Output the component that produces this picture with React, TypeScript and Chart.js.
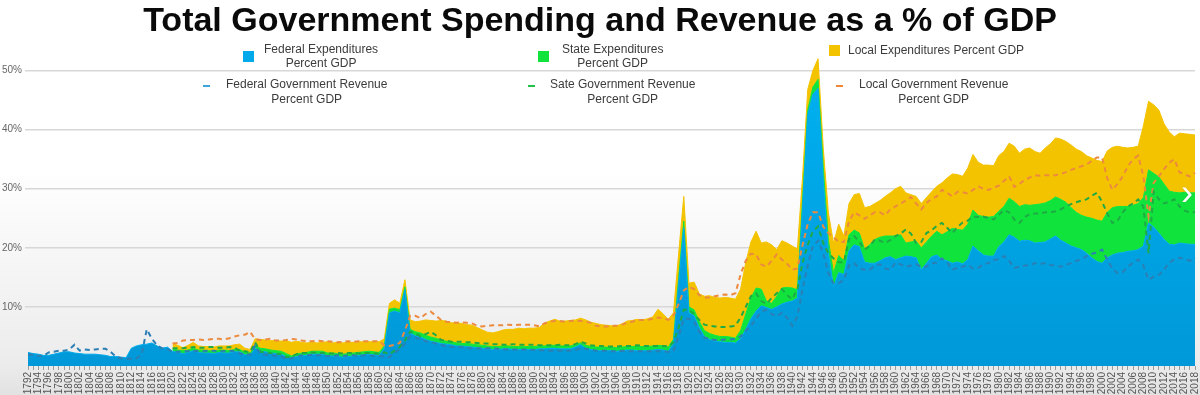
import React, { useEffect, useRef } from 'react';
import { Chart, registerables } from 'chart.js';

Chart.register(...registerables);

const years: string[] = Array.from({ length: 227 }, (_, i) => String(1792 + i));

const yTickValues = [10, 20, 30, 40, 50];

// Federal expenditures, % of GDP (1792-2018)
const fedExp = [
  2.3, 2.1, 2.0, 1.8, 1.8, 2.0, 2.2, 2.4,
  2.4, 2.2, 2.1, 2.0, 2.0, 2.0, 1.9, 1.8, 1.6, 1.6,
  1.5, 1.4, 3.0, 3.4, 3.6, 3.7, 3.9, 3.4, 3.0, 3.2,
  2.5, 2.3, 2.1, 2.3, 2.6, 2.3, 2.2, 2.2, 2.1, 2.3,
  2.2, 2.2, 2.4, 2.4, 1.9, 1.8, 3.0, 2.5, 2.4, 2.2,
  2.1, 2.0, 1.6, 1.3, 1.6, 1.7, 1.8, 2.0, 2.0, 2.0,
  1.7, 1.7, 1.6, 1.5, 1.6, 1.7, 1.8, 1.9, 2.0, 1.9,
  1.8, 3.0, 9.0, 9.3, 9.0, 12.9, 5.6, 5.1, 4.9, 4.5,
  4.2, 4.0, 3.8, 3.7, 3.6, 3.4, 3.4, 3.3, 3.2, 3.1,
  3.0, 2.9, 2.8, 2.8, 2.9, 2.9, 2.8, 2.8, 2.8, 2.8,
  2.8, 2.9, 2.9, 3.0, 3.0, 2.9, 2.9, 2.9, 3.2, 3.6,
  3.0, 2.8, 2.6, 2.6, 2.6, 2.6, 2.5, 2.6, 2.7, 2.7,
  2.6, 2.6, 2.6, 2.7, 2.8, 2.7, 2.5, 3.8, 14.0, 23.4,
  9.0, 8.5, 6.5, 5.0, 4.5, 4.2, 4.1, 4.0, 4.0, 3.9,
  4.6, 6.2, 8.0, 9.3, 10.2, 9.9, 9.6, 10.0, 10.5, 10.8,
  11.0, 11.5, 27.0, 42.5, 46.0, 47.0, 31.5, 19.1, 13.4, 15.8,
  15.5, 19.5, 20.5, 20.2, 17.6, 17.4, 17.4, 17.8, 18.3, 18.5,
  18.0, 18.3, 18.6, 18.5, 18.3, 16.3, 17.4, 18.5, 18.8, 18.0,
  17.8, 17.4, 17.6, 17.3, 18.0, 20.3, 19.5, 18.8, 18.6, 18.6,
  20.2, 21.0, 22.2, 21.8, 21.1, 21.3, 21.2, 20.8, 20.9, 21.0,
  21.5, 22.0, 21.3, 20.8, 20.3, 20.0, 19.7, 19.1, 18.3, 17.7,
  17.4, 18.3, 18.8, 19.1, 19.2, 19.4, 19.5, 19.7, 20.3, 24.2,
  23.5, 22.5, 21.4, 20.6, 20.5, 20.8, 20.7, 20.6, 20.6,
];

// State expenditures, % of GDP
const stateExp = [
  null, null, null, null, null, null, null, null,
  null, null, null, null, null, null, null, null, null, null,
  null, null, null, null, null, null, null, null, null, null,
  0.4, 0.4, 0.5, 0.4, 0.4, 0.4, 0.5, 0.4, 0.4, 0.4,
  0.5, 0.4, 0.4, 0.4, 0.4, 0.4, 0.4, 0.5, 0.5, 0.5,
  0.5, 0.5, 0.5, 0.4, 0.4, 0.5, 0.5, 0.5, 0.5, 0.5,
  0.5, 0.5, 0.5, 0.5, 0.5, 0.5, 0.5, 0.5, 0.5, 0.5,
  0.5, 0.4, 0.6, 0.5, 0.5, 0.5, 0.6, 0.7, 0.7, 0.7,
  0.7, 0.7, 0.6, 0.5, 0.5, 0.5, 0.4, 0.5, 0.5, 0.5,
  0.5, 0.5, 0.5, 0.5, 0.5, 0.5, 0.5, 0.5, 0.5, 0.5,
  0.5, 0.5, 0.5, 0.5, 0.5, 0.5, 0.5, 0.5, 0.4, 0.3,
  0.5, 0.5, 0.6, 0.6, 0.6, 0.6, 0.6, 0.6, 0.6, 0.6,
  0.7, 0.7, 0.7, 0.7, 0.7, 0.7, 0.7, 0.7, 1.0, 1.1,
  1.0, 1.0, 1.0, 1.0, 1.0, 1.0, 0.9, 1.0, 0.9, 0.8,
  1.4, 2.6, 3.5, 3.9, 2.8, 1.1, 1.0, 1.8, 2.7, 2.5,
  2.2, 1.4, 1.2, 0.8, 1.2, 1.5, 2.3, 2.2, 2.3, 2.9,
  2.3, 2.7, 2.5, 2.3, 2.2, 3.1, 4.0, 4.0, 3.7, 3.5,
  4.0, 3.9, 2.2, 2.5, 2.8, 3.7, 3.6, 3.5, 4.0, 4.2,
  4.9, 5.9, 5.5, 5.7, 6.0, 6.1, 6.0, 6.5, 6.6, 6.7,
  6.0, 6.0, 6.2, 6.0, 5.9, 6.0, 6.0, 6.5, 6.5, 6.6,
  6.5, 6.6, 6.9, 6.9, 6.5, 6.0, 5.8, 6.1, 6.7, 7.0,
  7.1, 7.7, 8.0, 7.9, 7.8, 7.6, 7.7, 7.8, 8.2, 9.0,
  9.1, 9.5, 9.4, 9.0, 8.9, 8.5, 8.7, 8.7, 8.7,
];

// Local expenditures, % of GDP
const localExp = [
  null, null, null, null, null, null, null, null,
  null, null, null, null, null, null, null, null, null, null,
  null, null, null, null, null, null, null, null, null, null,
  0.9, 0.8, 0.5, 0.8, 1.0, 0.7, 0.6, 0.7, 0.7, 0.7,
  0.7, 0.8, 0.8, 0.9, 0.7, 0.6, 1.2, 1.5, 1.5, 1.6,
  1.7, 1.7, 2.2, 2.3, 2.2, 1.8, 1.6, 1.5, 1.4, 1.5,
  1.9, 1.7, 1.9, 1.9, 1.9, 1.8, 1.8, 1.7, 1.6, 1.7,
  1.8, 1.2, 1.0, 1.4, 1.1, 1.2, 1.6, 1.7, 2.0, 2.6,
  2.8, 2.9, 3.3, 3.4, 3.2, 3.4, 3.4, 3.2, 3.2, 2.9,
  2.6, 2.3, 2.3, 2.5, 2.7, 2.8, 2.9, 3.1, 3.0, 3.1,
  3.1, 3.1, 3.8, 4.1, 4.4, 4.2, 4.2, 4.3, 4.2, 4.2,
  4.3, 4.1, 4.0, 3.8, 3.7, 3.6, 3.7, 3.9, 4.3, 4.4,
  4.6, 4.5, 4.7, 4.9, 6.1, 5.4, 4.7, 4.5, 4.0, 4.2,
  4.0, 4.7, 4.7, 5.8, 6.4, 6.4, 6.5, 6.6, 6.6, 6.6,
  7.0, 8.7, 9.5, 9.6, 7.8, 10.0, 9.9, 7.9, 8.0, 7.5,
  7.1, 6.9, 3.8, 3.5, 2.8, 3.5, 3.2, 4.6, 5.1, 5.3,
  4.2, 5.3, 6.0, 6.7, 7.0, 6.5, 6.1, 6.2, 6.7, 7.3,
  8.0, 8.2, 8.5, 8.0, 7.6, 7.5, 7.5, 7.5, 7.6, 8.8,
  9.1, 9.2, 9.3, 9.1, 9.5, 9.4, 9.0, 8.7, 8.8, 8.6,
  9.4, 9.3, 9.3, 9.4, 9.0, 9.4, 9.7, 9.0, 8.6, 9.3,
  9.6, 10.0, 10.2, 10.3, 10.6, 10.7, 10.8, 10.4, 10.2, 10.1,
  10.1, 10.4, 10.2, 10.2, 10.0, 9.9, 9.8, 9.7, 12.1, 11.6,
  11.6, 11.3, 10.2, 10.0, 9.4, 10.1, 9.9, 9.9, 9.8,
];

// Federal government revenue, % of GDP
const fedRev = [
  1.9, 1.9, 1.7, 1.7, 2.3, 2.4, 2.6, 2.6,
  2.8, 3.6, 2.6, 2.8, 2.7, 2.8, 2.9, 2.9, 2.4, 1.6,
  1.3, 1.3, 1.2, 1.3, 1.9, 6.2, 4.6, 3.5, 3.0, 2.8,
  2.4, 2.4, 2.5, 2.5, 2.6, 2.5, 2.5, 2.6, 2.6, 2.5,
  2.5, 2.6, 2.5, 2.1, 2.0, 1.9, 3.5, 2.0, 1.9, 1.8,
  1.7, 1.6, 1.2, 1.3, 1.6, 1.8, 1.8, 1.9, 1.8, 1.8,
  1.7, 1.7, 1.8, 1.7, 1.8, 1.8, 1.7, 1.8, 1.8, 1.7,
  1.7, 1.6, 1.5, 2.2, 2.9, 3.8, 5.0, 4.8, 4.5, 4.2,
  4.0, 3.8, 3.6, 3.3, 3.2, 3.2, 3.2, 3.1, 3.0, 3.0,
  3.0, 3.0, 3.0, 2.9, 2.8, 2.8, 2.8, 2.8, 2.8, 2.8,
  2.7, 2.7, 2.6, 2.6, 2.6, 2.6, 2.6, 2.6, 2.7, 3.0,
  2.9, 2.8, 2.6, 2.6, 2.6, 2.5, 2.5, 2.6, 2.5, 2.5,
  2.5, 2.5, 2.5, 2.5, 2.5, 2.5, 2.4, 2.5, 5.0, 8.0,
  8.0, 7.5, 5.8, 4.8, 4.6, 4.4, 4.4, 4.5, 4.5, 4.6,
  5.0, 6.0, 6.8, 8.0, 9.2, 9.5, 8.8, 8.4, 9.0, 8.2,
  6.8, 8.4, 13.0, 17.0, 20.3, 21.2, 19.1, 15.7, 14.0, 14.0,
  14.6, 17.0, 17.4, 16.5, 16.3, 16.3, 17.0, 17.2, 16.5, 16.3,
  17.5, 17.2, 16.8, 17.0, 17.2, 16.8, 16.8, 17.4, 17.5, 18.2,
  17.5, 16.3, 16.6, 16.8, 17.1, 16.5, 16.6, 17.2, 17.4, 17.9,
  18.1, 18.6, 17.8, 16.6, 16.8, 17.0, 17.1, 17.4, 17.3, 17.4,
  17.1, 17.0, 16.8, 17.1, 17.4, 17.8, 18.0, 18.6, 19.0, 19.2,
  19.7, 18.0, 16.5, 15.7, 15.9, 16.8, 17.5, 18.0, 17.0, 14.6,
  15.1, 15.4, 16.3, 17.5, 18.0, 18.3, 18.1, 17.8, 18.3,
];

// State government revenue, % of GDP
const stateRev = [
  null, null, null, null, null, null, null, null,
  null, null, null, null, null, null, null, null, null, null,
  null, null, null, null, null, null, null, null, null, null,
  0.6, 0.6, 0.5, 0.6, 0.6, 0.6, 0.6, 0.6, 0.6, 0.6,
  0.6, 0.6, 0.6, 0.5, 0.5, 0.4, 0.5, 0.4, 0.4, 0.4,
  0.4, 0.4, 0.3, 0.3, 0.4, 0.4, 0.4, 0.4, 0.4, 0.4,
  0.4, 0.4, 0.4, 0.4, 0.4, 0.4, 0.4, 0.4, 0.4, 0.4,
  0.4, 0.7, 0.5, 0.4, 0.3, 0.5, 0.8, 0.7, 0.5, 1.2,
  1.8, 1.4, 0.8, 1.0, 0.9, 0.9, 0.9, 0.9, 1.0, 0.9,
  0.8, 0.8, 0.7, 0.8, 0.8, 0.8, 0.9, 0.8, 0.8, 0.8,
  0.9, 0.8, 0.9, 0.9, 0.9, 1.0, 0.9, 0.9, 1.0, 1.1,
  0.9, 0.7, 0.8, 0.8, 0.7, 0.8, 0.8, 0.8, 0.9, 0.9,
  1.0, 0.9, 0.9, 0.9, 0.9, 0.9, 0.9, 1.5, 1.5, 1.5,
  1.5, 1.3, 2.0, 2.2, 2.2, 2.3, 2.2, 2.1, 2.2, 2.2,
  3.2, 4.0, 5.0, 4.3, 1.8, 1.0, 2.7, 3.9, 4.0, 3.8,
  4.5, 4.6, 4.5, 3.5, 2.5, 2.4, 1.7, 3.4, 4.2, 3.6,
  2.9, 4.5, 4.6, 4.5, 3.4, 4.0, 4.4, 4.0, 4.3, 5.0,
  4.5, 5.2, 6.3, 5.4, 3.6, 4.2, 5.7, 5.6, 6.2, 6.0,
  5.9, 6.2, 6.9, 7.5, 7.5, 8.8, 8.6, 8.1, 7.6, 6.9,
  7.5, 7.8, 8.2, 8.2, 7.4, 8.2, 8.6, 8.4, 8.5, 8.6,
  8.9, 9.2, 9.7, 9.9, 10.0, 9.9, 10.0, 9.6, 9.8, 10.1,
  8.1, 7.8, 7.7, 8.9, 10.1, 10.2, 10.0, 10.2, 10.0, 4.5,
  14.4, 12.8, 11.2, 10.3, 10.2, 8.7, 8.2, 8.2, 7.7,
];

// Local government revenue, % of GDP
const localRev = [
  null, null, null, null, null, null, null, null,
  null, null, null, null, null, null, null, null, null, null,
  null, null, null, null, null, null, null, null, null, null,
  0.8, 0.9, 1.3, 1.3, 1.2, 1.4, 1.3, 1.3, 1.4, 1.5,
  1.4, 1.5, 1.9, 2.6, 2.8, 3.5, 0.5, 2.0, 2.2, 2.4,
  2.2, 2.3, 2.9, 3.0, 2.5, 2.1, 2.0, 1.9, 2.1, 2.0,
  2.1, 2.0, 1.8, 2.0, 2.0, 1.9, 2.1, 2.0, 2.0, 2.1,
  2.1, 1.2, 1.4, 1.0, 0.7, 1.7, 2.7, 3.0, 3.1, 3.4,
  3.4, 3.3, 3.4, 3.2, 3.3, 3.2, 3.3, 3.3, 3.2, 2.9,
  2.9, 3.0, 3.2, 3.2, 3.3, 3.4, 3.2, 3.4, 3.4, 3.4,
  3.3, 3.2, 3.7, 4.0, 4.1, 4.0, 4.0, 4.1, 4.0, 3.5,
  3.7, 3.8, 3.4, 3.3, 3.4, 3.5, 3.5, 3.6, 3.9, 4.1,
  4.3, 4.4, 4.4, 4.6, 4.8, 4.7, 4.5, 4.5, 4.0, 3.3,
  3.9, 4.2, 4.2, 4.6, 4.8, 5.1, 5.4, 5.5, 5.3, 5.5,
  7.3, 7.8, 7.2, 6.6, 6.2, 6.3, 6.3, 6.6, 5.0, 5.3,
  5.0, 3.5, 3.0, 3.5, 3.2, 2.4, 2.8, 3.4, 3.6, 3.4,
  3.5, 3.0, 4.0, 4.5, 5.2, 5.2, 4.6, 4.8, 4.7, 5.2,
  5.0, 5.1, 4.9, 6.2, 6.7, 5.5, 5.1, 5.3, 5.0, 5.6,
  5.9, 6.2, 6.0, 5.1, 4.6, 4.5, 5.2, 4.7, 4.8, 5.4,
  4.9, 4.9, 6.1, 5.5, 6.6, 6.3, 6.2, 6.5, 6.4, 6.3,
  6.3, 6.1, 6.0, 5.8, 5.8, 5.8, 5.8, 5.9, 5.9, 6.0,
  7.5, 6.0, 5.6, 6.2, 6.1, 6.8, 7.5, 7.4, 5.1, 6.2,
  1.5, 3.9, 5.8, 6.6, 6.8, 5.8, 6.1, 6.1, 6.7,
];

const FONT = "'Liberation Sans', Arial, Helvetica, sans-serif";

const legendText: React.CSSProperties = {
  position: 'absolute',
  font: `12px ${FONT}`,
  color: '#3c3c3c',
  textAlign: 'center',
  whiteSpace: 'pre',
};

export default function App() {
  const ref = useRef<HTMLCanvasElement>(null);

  useEffect(() => {
    const canvas = ref.current;
    if (!canvas) return;
    const blueFill = (c: any) => {
      const chart = c.chart;
      const area = chart.chartArea;
      if (!area) return '#00aaea';
      const g = chart.ctx.createLinearGradient(0, area.top, 0, area.bottom);
      g.addColorStop(0, '#00b3f3');
      g.addColorStop(1, '#0098d8');
      return g;
    };
    const areaBase = { pointRadius: 0, borderWidth: 1, tension: 0, stack: 'exp', order: 1 };
    const revBase = { pointRadius: 0, borderWidth: 2, borderDash: [5, 4], tension: 0, stack: 'rev', order: 0, fill: false };
    const chart = new Chart(canvas, {
      type: 'line',
      data: {
        labels: years,
        datasets: [
          { ...areaBase, label: 'Federal Expenditures Percent GDP', data: fedExp, fill: 'origin', backgroundColor: blueFill, borderColor: '#00aaea' },
          { ...areaBase, label: 'State Expenditures Percent GDP', data: stateExp, fill: '-1', backgroundColor: '#10e43c', borderColor: '#10e43c' },
          { ...areaBase, label: 'Local Expenditures Percent GDP', data: localExp, fill: '-1', backgroundColor: '#f4c300', borderColor: '#f4c300' },
          { ...revBase, label: 'Federal Government Revenue Percent GDP', data: fedRev, borderColor: '#2b7fb4' },
          { ...revBase, label: 'Sate Government Revenue Percent GDP', data: stateRev, borderColor: '#1eaa44' },
          { ...revBase, label: 'Local Government Revenue Percent GDP', data: localRev, borderColor: '#ec8a3e' },
        ] as any,
      },
      options: {
        responsive: false,
        maintainAspectRatio: false,
        animation: false,
        devicePixelRatio: 1,
        layout: { padding: { top: 41, right: 5, bottom: 0, left: 2 } },
        plugins: {
          legend: { display: false },
          title: { display: false },
          tooltip: { enabled: false },
        },
        scales: {
          x: {
            grid: { display: true, drawOnChartArea: false, tickLength: 4, color: '#9c9c9c' },
            border: { display: false },
            afterFit: (scale: any) => {
              scale.height = 29;
              scale.paddingLeft = 0;
              scale.paddingRight = 0;
            },
            ticks: {
              autoSkip: false,
              maxRotation: 90,
              minRotation: 90,
              padding: 2,
              color: '#555',
              font: { size: 10, family: FONT },
              callback: (_v: any, i: number) => (Number(years[i]) % 2 === 0 ? years[i] : ''),
            },
          },
          y: {
            stacked: true,
            min: 0,
            max: 55,
            afterBuildTicks: (axis: any) => {
              axis.ticks = yTickValues.map((v) => ({ value: v }));
            },
            afterFit: (axis: any) => {
              axis.width = 26;
            },
            grid: { color: '#d7d7d7', lineWidth: 1.5, tickLength: 3 },
            border: { display: false },
            ticks: {
              padding: 3,
              color: '#666',
              font: { size: 10, family: FONT },
              callback: (v: any) => `${v}%`,
            },
          },
        },
      } as any,
    });
    return () => chart.destroy();
  }, []);

  return (
    <div
      style={{
        position: 'relative',
        width: 1200,
        height: 395,
        overflow: 'hidden',
        background: 'linear-gradient(to bottom, #ffffff 0%, #ffffff 42%, #ececec 92%, #e2e2e2 100%)',
      }}
    >
      <style>{'body{margin:0}'}</style>
      <canvas ref={ref} width={1200} height={395} style={{ position: 'absolute', left: 0, top: 0 }} />
      <div
        style={{
          position: 'absolute',
          left: 0,
          top: 2,
          width: 1200,
          textAlign: 'center',
          font: `bold 34px ${FONT}`,
          lineHeight: '34px',
          color: '#0a0a0a',
        }}
      >
        Total Government Spending and Revenue as a % of GDP
      </div>

      {/* Row 1: expenditures */}
      <div style={{ position: 'absolute', left: 243, top: 51, width: 11, height: 11, background: '#00aaea' }} />
      <div style={{ ...legendText, left: 264, top: 42, lineHeight: '14px' }}>{'Federal Expenditures\nPercent GDP'}</div>
      <div style={{ position: 'absolute', left: 538, top: 51, width: 11, height: 11, background: '#10e43c' }} />
      <div style={{ ...legendText, left: 562, top: 42, lineHeight: '14px' }}>{'State Expenditures\nPercent GDP'}</div>
      <div style={{ position: 'absolute', left: 829, top: 45, width: 11, height: 11, background: '#f4c300' }} />
      <div style={{ ...legendText, left: 848, top: 43, lineHeight: '14px' }}>Local Expenditures Percent GDP</div>

      {/* Row 2: revenues */}
      <div style={{ position: 'absolute', left: 203, top: 85, width: 7, height: 2, background: '#3ea5dc' }} />
      <div style={{ ...legendText, left: 226, top: 77, lineHeight: '15px' }}>{'Federal Government Revenue\nPercent GDP'}</div>
      <div style={{ position: 'absolute', left: 528, top: 85, width: 7, height: 2, background: '#22c24a' }} />
      <div style={{ ...legendText, left: 550, top: 77, lineHeight: '15px' }}>{'Sate Government Revenue\nPercent GDP'}</div>
      <div style={{ position: 'absolute', left: 836, top: 85, width: 7, height: 2, background: '#f0883a' }} />
      <div style={{ ...legendText, left: 859, top: 77, lineHeight: '15px' }}>{'Local Government Revenue\nPercent GDP'}</div>

      <div
        style={{
          position: 'absolute',
          left: 1181,
          top: 175,
          font: `36px ${FONT}`,
          color: '#ffffff',
          lineHeight: '36px',
          textShadow: '0 0 2px rgba(0,0,0,0.15)',
        }}
      >
        ›
      </div>
    </div>
  );
}
